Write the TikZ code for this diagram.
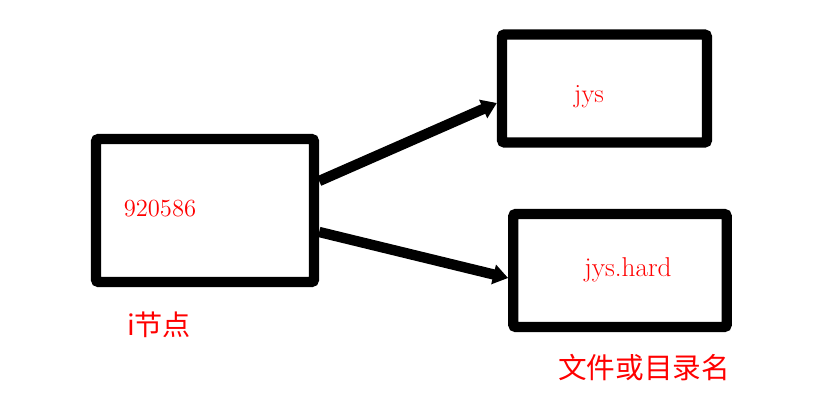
\documentclass[tikz,border=0pt]{standalone}
\usepackage{fontspec}
\newfontfamily\cjk{Noto Sans CJK SC}
\usetikzlibrary{calc,arrows.meta}

\begin{document}
\begin{tikzpicture}[x = 0.02cm, y = -0.02cm]
    \tikzset{
        box/.style = {draw, line width = 5.9pt, rounded corners = 1.5pt, inner sep = 0pt},
        link/.style = {draw, line width = 5.9pt, -{Triangle[length = 8.5pt, width = 11pt]}},
        word/.style = {text = red, inner sep = 0pt}
    }
    \useasboundingbox (0,0) rectangle (836,405);
    % inode
    \node[box, minimum width = 4.36cm, minimum height = 2.86cm](inode)at(205,210.5){};
    \node[word, font = \fontsize{14}{16}\selectfont](num)at(160,209){920586};
    \node[word, font = \cjk\fontsize{16}{19}\selectfont](ilabel)at(159,325){i节点};
    % names
    \node[box, minimum width = 4.1cm, minimum height = 2.16cm](jys)at(604.5,88.5){};
    \node[word, font = \fontsize{15}{17}\selectfont](jystext)at(589,97){jys};
    \node[box, minimum width = 4.27cm, minimum height = 2.26cm](hard)at(620,270.5){};
    \node[word, font = \fontsize{15.5}{18}\selectfont](hardtext)at(628,270){jys.hard};
    \node[word, font = \cjk\fontsize{16.3}{19}\selectfont](nlabel)at(644,368){文件或目录名};
    % links
    \path[link]([yshift = 0.59cm]inode.east)to([yshift = -0.29cm]jys.west);
    \path[link]([yshift = -0.43cm]inode.east)to([yshift = -0.15cm]hard.west);
\end{tikzpicture}
\end{document}
